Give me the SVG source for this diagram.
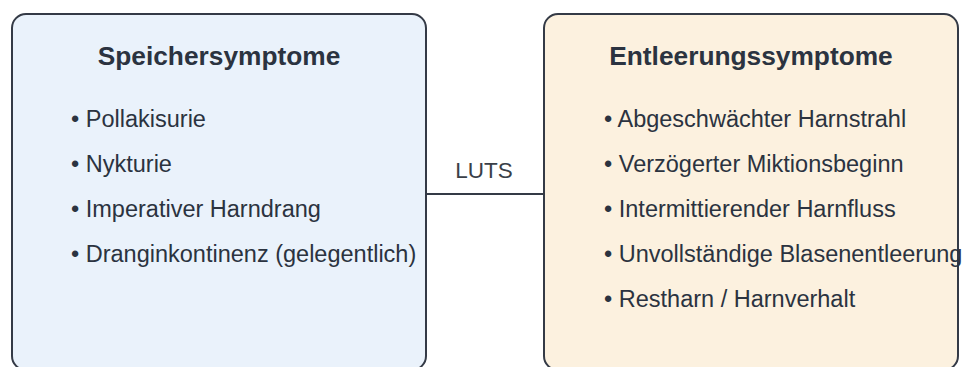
<svg xmlns="http://www.w3.org/2000/svg" width="963" height="367" viewBox="0 0 963 367">
<style>
.box{stroke:#343a46;stroke-width:2}
.title{font-family:"Liberation Sans",Arial,sans-serif;font-size:26.3px;font-weight:bold;fill:#2b3340;text-anchor:middle}
.item{font-family:"Liberation Sans",Arial,sans-serif;font-size:23.5px;fill:#2b3340}
.lbl{font-family:"Liberation Sans",Arial,sans-serif;font-size:22.5px;fill:#3a3f48;text-anchor:middle}
</style>
<rect width="963" height="367" fill="#ffffff"/>
<g id="connectors">
<line x1="426" y1="194" x2="544" y2="194" stroke="#343a46" stroke-width="2"/>
<text class="lbl" x="484" y="178">LUTS</text>
</g>
<g id="speicher">
<rect class="box" x="12" y="14" width="414" height="356" rx="14" fill="#eaf2fb"/>
<text class="title" x="219" y="65">Speichersymptome</text>
<text class="item" x="71" y="127">• Pollakisurie</text>
<text class="item" x="71" y="172">• Nykturie</text>
<text class="item" x="71" y="217">• Imperativer Harndrang</text>
<text class="item" x="71" y="262">• Dranginkontinenz (gelegentlich)</text>
</g>
<g id="entleerung">
<rect class="box" x="544" y="14" width="414" height="356" rx="14" fill="#fcf1df"/>
<text class="title" x="751" y="65">Entleerungssymptome</text>
<text class="item" x="604" y="127">• Abgeschwächter Harnstrahl</text>
<text class="item" x="604" y="172">• Verzögerter Miktionsbeginn</text>
<text class="item" x="604" y="217">• Intermittierender Harnfluss</text>
<text class="item" x="604" y="262">• Unvollständige Blasenentleerung</text>
<text class="item" x="604" y="307">• Restharn / Harnverhalt</text>
</g>
</svg>
